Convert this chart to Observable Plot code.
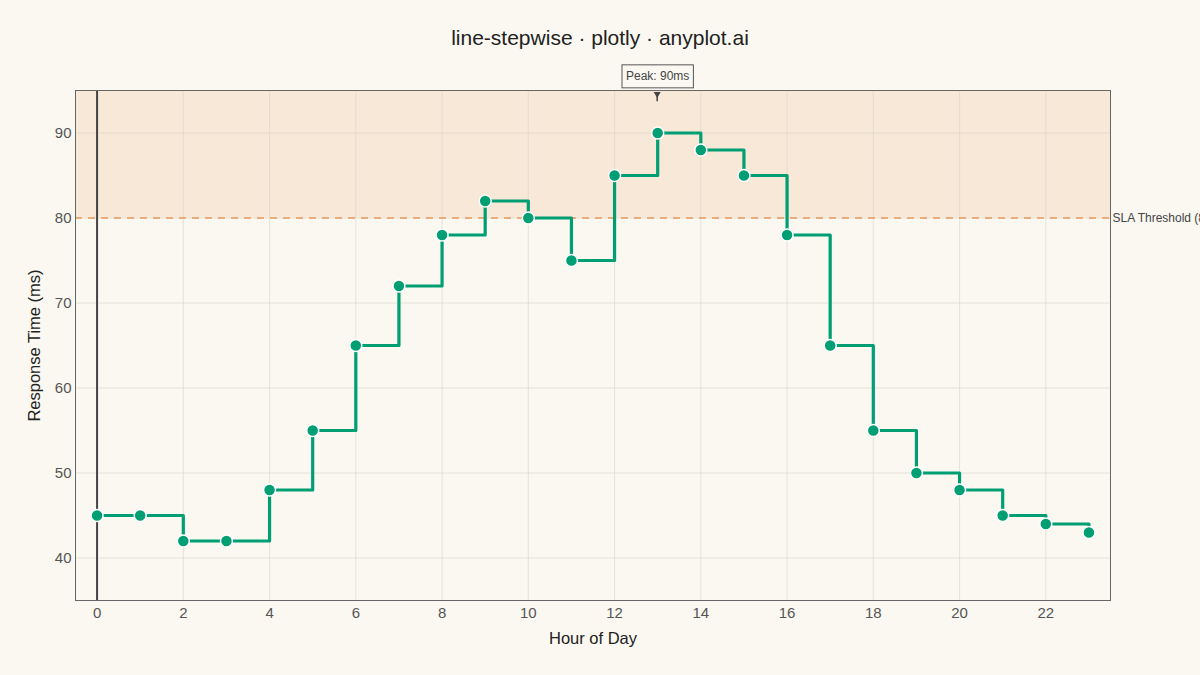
<!DOCTYPE html>
<html>
<head>
<meta charset="utf-8">
<script src="https://cdn.jsdelivr.net/npm/d3@7"></script>
<script src="https://cdn.jsdelivr.net/npm/@observablehq/plot@0.6"></script>
<style>
  html, body { margin: 0; padding: 0; background: #FAF8F1; width: 1200px; height: 675px; overflow: hidden; }
  body { font-family: "Liberation Sans", Arial, sans-serif; }
  #title { height: 60px; line-height: 76px; text-align: center; font-size: 21px; color: #222; }
  #chart svg { display: block; }
</style>
</head>
<body>
<div id="title">line-stepwise · plotly · anyplot.ai</div>
<div id="chart"></div>
<script>
const hours = [0,1,2,3,4,5,6,7,8,9,10,11,12,13,14,15,16,17,18,19,20,21,22,23];
const responseMs = [45,45,42,42,48,55,65,72,78,82,80,75,85,90,88,85,78,65,55,50,48,45,44,43];
const xTicks = [0,2,4,6,8,10,12,14,16,18,20,22];
const yTicks = [40,50,60,70,80,90];
const slaThreshold = 80;
const slaLabel = "SLA Threshold (80ms)";
const peakLabel = "Peak: 90ms";

const data = hours.map((h, i) => ({hour: h, ms: responseMs[i]}));
const peak = data.reduce((a, b) => (b.ms > a.ms ? b : a));
const yTop = 95, yBottom = 35;

const green = "#009E73";
const plot = Plot.plot({
  width: 1200,
  height: 615,
  marginTop: 30,
  marginBottom: 75,
  marginLeft: 75,
  marginRight: 90,
  style: {background: "transparent", fontFamily: "'Liberation Sans', Arial, sans-serif", color: "#444"},
  x: {domain: [-0.5, 23.5]},
  y: {domain: [yBottom, yTop]},
  marks: [
    Plot.rect([{y1: slaThreshold, y2: yTop}], {x1: -0.5, x2: 23.5, y1: "y1", y2: "y2", fill: "#F5E3CE", fillOpacity: 0.75}),
    Plot.gridX(xTicks, {stroke: "#d8d3c8", strokeOpacity: 0.6}),
    Plot.gridY(yTicks, {stroke: "#d8d3c8", strokeOpacity: 0.6}),
    Plot.ruleX([0], {stroke: "#444", strokeWidth: 2}),
    Plot.ruleY([slaThreshold], {stroke: "#E58B45", strokeOpacity: 0.85, strokeWidth: 1.5, strokeDasharray: "7,6"}),
    Plot.frame({stroke: "#666", strokeWidth: 1}),
    Plot.line(data, {x: "hour", y: "ms", curve: "step-after", stroke: green, strokeWidth: 3.2}),
    Plot.dot(data, {x: "hour", y: "ms", r: 6, fill: green, stroke: "white", strokeWidth: 1.5}),
    Plot.text([slaLabel], {x: 23.5, y: slaThreshold, text: d => d, textAnchor: "start", dx: 2, fontSize: 12, fill: "#444"}),
    Plot.text([peak], {x: "hour", y: yTop, text: () => peakLabel, dy: -14, fontSize: 12, fill: "#444", className: "peak-label"}),
    Plot.axisX({ticks: xTicks, tickSize: 0, tickPadding: 7, fontSize: 15, fill: "#555", tickFormat: d => String(d),
      label: "Hour of Day", labelAnchor: "center", labelOffset: 43, labelArrow: "none"}),
    Plot.axisY({ticks: yTicks, tickSize: 0, tickPadding: 4, fontSize: 15, fill: "#555",
      label: "Response Time (ms)", labelAnchor: "center", labelOffset: 47, labelArrow: "none"})
  ]
});
document.getElementById("chart").appendChild(plot);

const svg = d3.select(plot);
svg.selectAll("[aria-label='x-axis label'], [aria-label='y-axis label']")
  .attr("font-size", 16.5).attr("fill", "#222");

// box around peak annotation and arrow
const xs = plot.scale("x"), ys = plot.scale("y");
const px = xs.apply(peak.hour), pTop = ys.apply(yTop);
const t = plot.querySelector(".peak-label text");
if (t) {
  const bb = t.getBBox();
  const tr = t.getAttribute("transform") || "";
  const m = /translate\(([-\d.]+),\s*([-\d.]+)\)/.exec(tr);
  const ox = m ? +m[1] : 0, oy = m ? +m[2] : 0;
  const g = d3.select(t.parentNode);
  g.insert("rect", "text")
    .attr("x", ox + bb.x - 4).attr("y", oy + bb.y - 4.5)
    .attr("width", bb.width + 8).attr("height", bb.height + 9)
    .attr("fill", "#FAF8F1").attr("stroke", "#555").attr("stroke-width", 1);
  const y0 = oy + bb.y + bb.height + 4.5;
  svg.append("line").attr("x1", px).attr("x2", px).attr("y1", y0).attr("y2", pTop + 3)
    .attr("stroke", "#444").attr("stroke-width", 1.5);
  svg.append("path").attr("d", `M${px - 3.5},${pTop + 2} L${px + 3.5},${pTop + 2} L${px},${pTop + 8} Z`).attr("fill", "#444");
}
</script>
</body>
</html>
